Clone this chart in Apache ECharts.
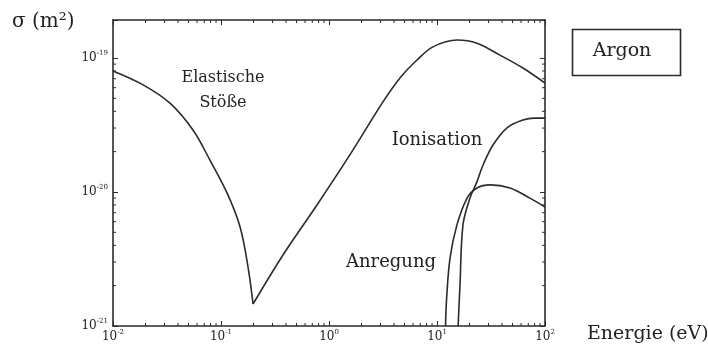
<!DOCTYPE html>
<html>
<head>
<meta charset="utf-8">
<title>Argon Wirkungsquerschnitte</title>
<script src="https://cdn.jsdelivr.net/npm/echarts@6/dist/echarts.min.js"></script>
<style>
  html, body { margin: 0; padding: 0; background: #fff; }
  #chart { width: 708px; height: 352px; }
</style>
</head>
<body>
<div id="chart"></div>
<script>
// Energie (eV) / Querschnitt (m^2)
const elasticE     = [0.01, 0.019, 0.0337, 0.055, 0.079, 0.114, 0.150, 0.178, 0.198,
                      0.375, 0.774, 1.56, 3.16, 4.54, 6.53, 9.18, 15.3, 23.4, 38.3, 62.5, 100];
const elasticSigma = [8.0e-20, 6.3e-20, 4.6e-20, 2.9e-20, 1.73e-20, 9.8e-21, 5.5e-21, 2.75e-21, 1.46e-21,
                      3.39e-21, 8.0e-21, 1.89e-20, 4.70e-20, 7.10e-20, 9.66e-20, 1.21e-19, 1.36e-19, 1.29e-19, 1.05e-19, 8.42e-20, 6.5e-20];

const ionE     = [15.7, 16.0, 16.3, 17.4, 20.2, 23.4, 26.7, 33.0, 44.5, 62.5, 80.0, 100];
const ionSigma = [1.0e-21, 1.44e-21, 1.95e-21, 5.68e-21, 9.0e-21, 1.19e-20, 1.59e-20, 2.24e-20, 3.01e-20, 3.44e-20, 3.56e-20, 3.56e-20];

const excE     = [12.0, 12.25, 13.2, 15.3, 19.0, 23.4, 31.0, 47.4, 72.6, 100];
const excSigma = [1.0e-21, 1.56e-21, 3.21e-21, 5.68e-21, 9.0e-21, 1.07e-20, 1.13e-20, 1.07e-20, 9.0e-21, 7.73e-21];

// Achsenbereich (eV bzw. m^2)
const xMin = 0.01, xMax = 100;
const yMinM2 = 1e-21, yMaxM2 = 1.92e-19;
// Zwischenstriche (log): Dekaden und Faktoren
const xDecades = [-2, -1, 0, 1];
const yDecades = [-21, -20];
const minorFactors = [2, 3, 4, 5, 6, 7, 8, 9];

// ECharts rechnet mit so kleinen Zahlen ungenau -> y-Achse in Einheiten von 1e-21 m^2
const yUnitExp = -21;
const toUnit = s => s / Math.pow(10, yUnitExp);
const yMin = toUnit(yMinM2), yMax = toUnit(yMaxM2);

const lineColor = '#2b2b2b';
const font = 'DejaVu Serif';

const zip = (a, b) => a.map((v, i) => [v, toUnit(b[i])]);

// Minimum der elastischen Kurve: in zwei Stücke teilen, damit die Spitze scharf bleibt
const elastic = zip(elasticE, elasticSigma);
let minIdx = 0;
elasticSigma.forEach((s, i) => { if (s < elasticSigma[minIdx]) minIdx = i; });

// nur Zehnerpotenzen beschriften, Exponent hochgestellt
const powLabel = shift => v => {
  const e = Math.log10(v);
  const r = Math.round(e);
  return Math.abs(e - r) < 1e-6 ? '{b|10}{e|' + (r + shift) + '}' : '';
};
const labelRich = {
  b: { fontFamily: font, fontSize: 12, color: '#222', lineHeight: 16 },
  e: { fontFamily: font, fontSize: 7, color: '#222', lineHeight: 8, verticalAlign: 'top' }
};

const xMinor = [];
xDecades.forEach(d => minorFactors.forEach(m => xMinor.push([m * Math.pow(10, d), yMin])));
const yMinor = [];
yDecades.forEach(d => minorFactors.forEach(m => {
  const v = toUnit(m * Math.pow(10, d));
  if (v < yMax) yMinor.push([xMin, v]);
}));

const tickLine = (x1, y1, x2, y2) => ({
  type: 'line',
  shape: { x1, y1, x2, y2 },
  style: { stroke: lineColor, lineWidth: 1 }
});

const curve = data => ({
  type: 'line',
  data,
  smooth: 0.35,
  symbol: 'none',
  silent: true,
  lineStyle: { color: lineColor, width: 1.6 }
});

const axisLine = { show: true, lineStyle: { color: lineColor, width: 1.6 } };
const axisTick = { show: true, inside: true, length: 5, lineStyle: { color: lineColor, width: 1 } };

const chart = echarts.init(document.getElementById('chart'));
chart.setOption({
  backgroundColor: '#fff',
  animation: false,
  grid: { left: 113, right: 163, top: 20, bottom: 26 },
  xAxis: [
    {
      type: 'log', logBase: 10, min: xMin, max: xMax, position: 'bottom',
      axisLine, axisTick, splitLine: { show: false },
      axisLabel: { formatter: powLabel(0), rich: labelRich, margin: 3 }
    },
    {
      type: 'log', logBase: 10, min: xMin, max: xMax, position: 'top',
      axisLine, axisTick, splitLine: { show: false },
      axisLabel: { show: false }
    }
  ],
  yAxis: [
    {
      type: 'log', logBase: 10, min: yMin, max: yMax, position: 'left',
      axisLine, axisTick, splitLine: { show: false },
      axisLabel: { formatter: powLabel(yUnitExp), rich: labelRich, margin: 5 }
    },
    {
      type: 'log', logBase: 10, min: yMin, max: yMax, position: 'right',
      axisLine, axisTick, splitLine: { show: false },
      axisLabel: { show: false }
    }
  ],
  series: [
    curve(elastic.slice(0, minIdx + 1)),
    curve(elastic.slice(minIdx)),
    curve(zip(ionE, ionSigma)),
    curve(zip(excE, excSigma)),
    {
      // Zwischenstriche unten und oben
      type: 'custom',
      silent: true,
      data: xMinor,
      renderItem: (params, api) => {
        const v = api.value(0);
        const b = api.coord([v, yMin]);
        const t = api.coord([v, yMax]);
        return { type: 'group', children: [
          tickLine(b[0], b[1], b[0], b[1] - 3),
          tickLine(t[0], t[1], t[0], t[1] + 3)
        ] };
      }
    },
    {
      // Zwischenstriche links und rechts
      type: 'custom',
      silent: true,
      data: yMinor,
      renderItem: (params, api) => {
        const v = api.value(1);
        const l = api.coord([xMin, v]);
        const r = api.coord([xMax, v]);
        return { type: 'group', children: [
          tickLine(l[0], l[1], l[0] + 3, l[1]),
          tickLine(r[0], r[1], r[0] - 3, r[1])
        ] };
      }
    }
  ],
  graphic: [
    { type: 'text', left: 12, top: 12, style: { text: 'σ (m²)', font: '20px "DejaVu Serif"', fill: '#222' } },
    { type: 'text', left: 587, top: 325, style: { text: 'Energie (eV)', font: '19px "DejaVu Serif"', fill: '#222' } },
    { type: 'rect', left: 570, top: 27, shape: { width: 108, height: 46 }, style: { fill: 'none', stroke: lineColor, lineWidth: 1.6 } },
    { type: 'text', x: 622, y: 51, style: { text: 'Argon', font: '19px "DejaVu Serif"', fill: '#222', align: 'center', verticalAlign: 'middle' } },
    { type: 'text', x: 223, y: 78, style: { text: 'Elastische', font: '16px "DejaVu Serif"', fill: '#222', align: 'center', verticalAlign: 'middle' } },
    { type: 'text', x: 223, y: 103, style: { text: 'Stöße', font: '16px "DejaVu Serif"', fill: '#222', align: 'center', verticalAlign: 'middle' } },
    { type: 'text', x: 437, y: 140, style: { text: 'Ionisation', font: '18px "DejaVu Serif"', fill: '#222', align: 'center', verticalAlign: 'middle' } },
    { type: 'text', x: 391, y: 262, style: { text: 'Anregung', font: '18px "DejaVu Serif"', fill: '#222', align: 'center', verticalAlign: 'middle' } }
  ]
});
</script>
</body>
</html>
